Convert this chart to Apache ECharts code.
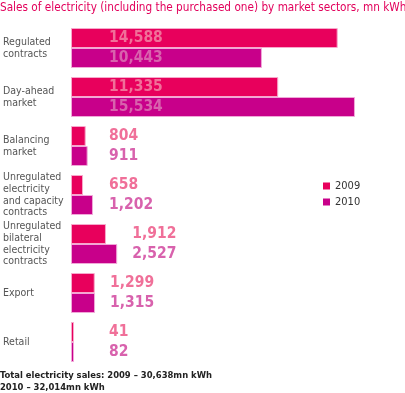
<!DOCTYPE html>
<html><head><meta charset="utf-8">
<script src="https://cdn.jsdelivr.net/npm/echarts@6/dist/echarts.min.js"></script>
<style>html,body{margin:0;padding:0;background:#fff}#c{width:405px;height:393px}</style>
</head><body><div id="c"></div>
<script>
const categories = ['Regulated\ncontracts','Day-ahead\nmarket','Balancing\nmarket','Unregulated\nelectricity\nand capacity\ncontracts','Unregulated\nbilateral\nelectricity\ncontracts','Export','Retail'];
const values2009 = [14588, 11335, 804, 658, 1912, 1299, 41];
const values2010 = [10443, 15534, 911, 1202, 2527, 1315, 82];
const seriesNames = ['2009', '2010'];
const titleText = 'Sales of electricity (including the purchased one) by market sectors, mn kWh';
const footText = 'Total electricity sales: 2009 \u2013 30,638mn kWh\n2010 \u2013 32,014mn kWh';

const gridLeft = 70, gridWidth = 293.5, axisMax = 16000;
const pxPer = gridWidth / axisMax;
function labelX(i){
  const minW = Math.min(values2009[i], values2010[i]) * pxPer;
  if (minW > 60) return 38;             // long bars: label sits inside
  const w = Math.max(values2009[i], values2010[i]) * pxPer;
  return Math.max(38, w + 15);
}
const cond = '"DejaVu Sans Condensed", sans-serif';
function mk(vals){
  return vals.map((v,i)=>({value:v, label:{position:[labelX(i),'50%']}}));
}
const chart = echarts.init(document.getElementById('c'));
chart.setOption({
  animation:false,
  title:[
    {text:titleText, left:0, top:2, padding:0, textStyle:{color:'#e2005b', fontSize:11.7, fontWeight:'normal', fontFamily:cond}},
    {text:footText, left:0, top:369, padding:0, textStyle:{color:'#222', fontSize:9.4, fontWeight:'bold', lineHeight:12.5, fontFamily:cond}}
  ],
  legend:{orient:'vertical', left:318, top:174, itemWidth:7, itemHeight:7, itemGap:2, icon:'rect',
    itemStyle:{borderWidth:0},
    textStyle:{fontSize:11, lineHeight:14, color:'#333', fontFamily:cond}, data:seriesNames},
  grid:{left:gridLeft, top:23.5, width:gridWidth, height:343},
  xAxis:{type:'value', min:0, max:axisMax, show:false},
  yAxis:{type:'category', data:categories, inverse:true, axisLine:{show:false}, axisTick:{show:false},
    axisLabel:{align:'left', margin:68, color:'#555', fontSize:10.5, lineHeight:11.8, fontFamily:cond}},
  series:[
    {name:seriesNames[0], type:'bar', data:mk(values2009), barWidth:20, barGap:'0%', barMinHeight:3,
      itemStyle:{color:'#e8005c', borderColor:'#f7a8cb', borderWidth:1},
      label:{show:true, formatter:p=>p.value.toLocaleString('en-US'), align:'left', verticalAlign:'middle',
        color:'#f07099', fontSize:15.5, fontWeight:'bold', fontFamily:cond}},
    {name:seriesNames[1], type:'bar', data:mk(values2010), barWidth:20, barMinHeight:3,
      itemStyle:{color:'#c8008a', borderColor:'#f0a8d8', borderWidth:1},
      label:{show:true, formatter:p=>p.value.toLocaleString('en-US'), align:'left', verticalAlign:'middle',
        color:'#d862ad', fontSize:15.5, fontWeight:'bold', fontFamily:cond}}
  ]
});
</script></body></html>
